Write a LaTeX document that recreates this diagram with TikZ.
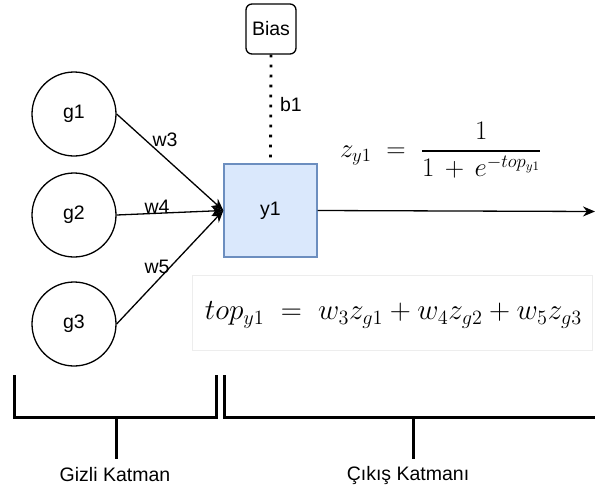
\documentclass[tikz,border=0pt]{standalone}
\usepackage[no-math]{fontspec}
\setmainfont{Liberation Sans}
\usepackage{amsmath}
\usetikzlibrary{arrows.meta}
\definecolor{nodeblue}{HTML}{DAE8FC}
\definecolor{nodeborder}{HTML}{6C8EBF}
\begin{document}
\begin{tikzpicture}[x=1pt,y=-1pt,
  every node/.style={font=\fontsize{19.5}{23}\selectfont},
  neuron/.style={circle,draw=black,line width=1.3pt,fill=white,minimum size=84pt,inner sep=0pt},
  outbox/.style={rectangle,draw=nodeborder,line width=1.3pt,fill=nodeblue,minimum width=93pt,minimum height=93pt,inner sep=0pt},
  biasbox/.style={rectangle,rounded corners=6pt,draw=black,line width=1.3pt,fill=white,minimum width=50pt,minimum height=50pt,inner sep=0pt},
  edge/.style={line width=1.3pt,-{Stealth[length=12pt,width=10pt]}},
  biasline/.style={line width=2.8pt,dash pattern=on 2.8pt off 7.2pt},
  bracket/.style={line width=3pt},
  wlabel/.style={inner sep=0pt},
  formbox/.style={draw=black!7,line width=0.8pt}
]
\useasboundingbox (0,0) rectangle (595,493);

% formula image frame
\draw[formbox] (192,275) rectangle (592,350);

% nodes
\node[neuron] (g1) at (74,114) {g1};
\node[neuron] (g2) at (74,215) {g2};
\node[neuron] (g3) at (74,324) {g3};
\node[outbox] (y1) at (270.5,210.5) {y1};
\node[biasbox] (bias) at (271,29) {Bias};
\coordinate (outend) at (595,211.5);

% connectors
\draw[biasline] (bias.south) -- (y1.north);
\draw[edge] (g1.east) -- (y1.west);
\draw[edge] (g2.east) -- (y1.west);
\draw[edge] (g3.east) -- (y1.west);
\draw[edge] (y1.east) -- (outend);

% labels
\node[wlabel] (w3) at (165,140) {w3};
\node[wlabel] (w4) at (157,207) {w4};
\node[wlabel] (w5) at (157,267) {w5};
\node[wlabel] (b1) at (291,105) {b1};

% formulas
\node[inner sep=0pt] (zf) at (441,150) {\resizebox{202pt}{!}{$\displaystyle z_{y1}\;=\;\frac{1}{1\,+\,e^{-top_{y1}}}$}};
\node[inner sep=0pt] (tf) at (393.5,315) {\resizebox{377pt}{!}{$top_{y1}\;=\;w_3z_{g1}+w_4z_{g2}+w_5z_{g3}$}};

% brackets
\coordinate (la) at (14,375);
\coordinate (lb) at (14,417);
\coordinate (lc) at (216,417);
\coordinate (ld) at (216,375);
\coordinate (ls) at (116,417);
\coordinate (lt) at (116,459);
\coordinate (ra) at (224,375);
\coordinate (rb) at (224,417);
\coordinate (rc) at (595,417);
\coordinate (rs) at (413,417);
\coordinate (rt) at (413,459);
\draw[bracket] (la) -- (lb) -- (lc) -- (ld);
\draw[bracket] (ls) -- (lt);
\draw[bracket] (ra) -- (rb) -- (rc);
\draw[bracket] (rs) -- (rt);
\node (gk) at (115,475) {Gizli Katman};
\node (ck) at (408,475) {Çıkış Katmanı};
\end{tikzpicture}
\end{document}
